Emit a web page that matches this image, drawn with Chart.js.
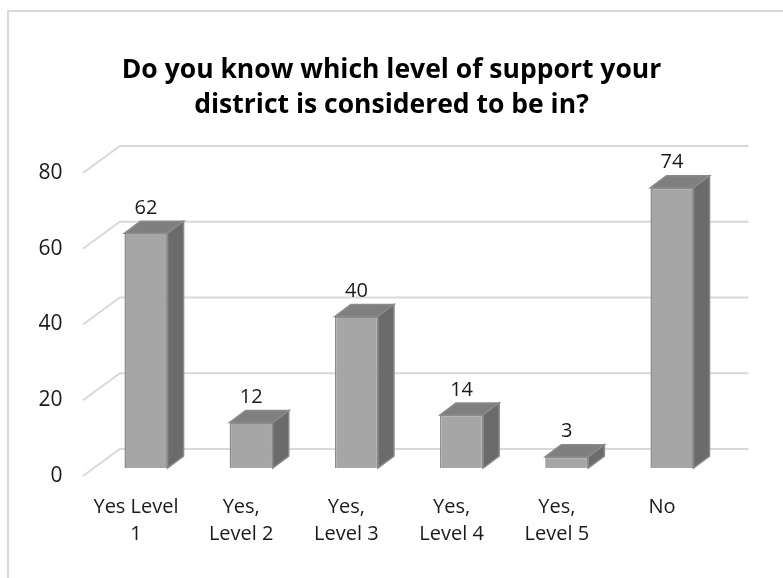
<!DOCTYPE html>
<html>
<head>
<meta charset="utf-8">
<script src="https://cdn.jsdelivr.net/npm/chart.js@4.4.0/dist/chart.umd.min.js"></script>
<style>
  body { margin: 0; background: #fff; }
  canvas { display: block; }
</style>
</head>
<body>
<canvas id="myChart" width="783" height="578"></canvas>
<script>
// data
const categories = [['Yes Level', '1'], ['Yes,', 'Level 2'], ['Yes,', 'Level 3'], ['Yes,', 'Level 4'], ['Yes,', 'Level 5'], ['No']];
const answers = [62, 12, 40, 14, 3, 74];
const yTicks = [0, 20, 40, 60, 80];
const titleLines = ['Do you know which level of support your', 'district is considered to be in?'];

// 3d look: depth of the bars and of the floor/walls
const barDx = 16, barDy = 12;
const wallDx = 37, wallDy = 27;
const frontGap = 8; // floor front edge sits this far below bar front face

const frame = {
  id: 'frame',
  beforeDraw(chart) {
    const c = chart.ctx;
    c.save();
    c.strokeStyle = '#d9d9d9';
    c.lineWidth = 2;
    c.strokeRect(8, 11, 900, 700);
    c.restore();
  }
};

const walls = {
  id: 'walls',
  beforeDatasetsDraw(chart) {
    const c = chart.ctx;
    const y = chart.scales.y;
    const x0 = chart.chartArea.left - 10.5;
    const xEnd = chart.chartArea.right + 24;
    c.save();
    c.strokeStyle = '#d9d9d9';
    c.lineWidth = 2;
    yTicks.forEach(v => {
      const yf = y.getPixelForValue(v) + frontGap;
      c.beginPath();
      c.moveTo(x0, yf);
      c.lineTo(x0 + wallDx, yf - wallDy);
      c.lineTo(xEnd, yf - wallDy);
      c.stroke();
    });
    c.restore();
  }
};

const bars3d = {
  id: 'bars3d',
  afterDatasetsDraw(chart) {
    const c = chart.ctx;
    const meta = chart.getDatasetMeta(0);
    c.save();
    meta.data.forEach((el, i) => {
      const l = el.x - el.width / 2, r = el.x + el.width / 2;
      const top = el.y, base = el.base;
      c.lineWidth = 1.5;
      c.strokeStyle = '#8a8a8a';
      // top face
      c.fillStyle = '#7f7f7f';
      c.beginPath();
      c.moveTo(l, top); c.lineTo(r, top); c.lineTo(r + barDx, top - barDy); c.lineTo(l + barDx, top - barDy);
      c.closePath(); c.fill(); c.stroke();
      // side face
      c.fillStyle = '#6b6b6b';
      c.beginPath();
      c.moveTo(r, top); c.lineTo(r + barDx, top - barDy); c.lineTo(r + barDx, base - barDy); c.lineTo(r, base);
      c.closePath(); c.fill(); c.stroke();
      // value label
      c.fillStyle = '#1a1a1a';
      c.font = '20px "Open Sans"';
      c.textAlign = 'center';
      c.textBaseline = 'middle';
      c.fillText(answers[i], el.x, top - 25);
    });
    c.restore();
  }
};

new Chart(document.getElementById('myChart'), {
  type: 'bar',
  data: {
    labels: categories,
    datasets: [{
      data: answers,
      backgroundColor: '#a6a6a6',
      borderColor: '#8a8a8a',
      borderWidth: 1.5,
      categoryPercentage: 1,
      barPercentage: 0.41
    }]
  },
  options: {
    responsive: false,
    animation: false,
    layout: { padding: { left: 29, right: 29, top: 0, bottom: 4 } },
    plugins: {
      legend: { display: false },
      tooltip: { enabled: false },
      title: {
        display: true,
        text: titleLines,
        color: '#000',
        font: { family: 'Open Sans', size: 26.5, weight: 'bold', lineHeight: 1.32 },
        padding: { top: 53, bottom: 42 }
      }
    },
    scales: {
      x: {
        grid: { display: false, drawTicks: false },
        border: { display: false },
        ticks: {
          color: '#1a1a1a',
          font: { family: 'Open Sans', size: 20, lineHeight: 1.35 },
          padding: 26,
          labelOffset: -10,
          maxRotation: 0,
          autoSkip: false
        }
      },
      y: {
        min: 0,
        max: 80,
        grid: { display: false, drawTicks: false },
        border: { display: false },
        afterFit: s => { s.width = 64.4; },
        ticks: {
          stepSize: 20,
          color: '#1a1a1a',
          font: { family: 'Open Sans', size: 21 },
          padding: 31,
          labelOffset: 8
        }
      },
      // empty axis on the right, only to keep the plot where the original has it
      yRight: {
        position: 'right',
        grid: { display: false, drawTicks: false },
        border: { display: false },
        ticks: { display: false },
        afterFit: s => { s.width = 29.4; }
      }
    }
  },
  plugins: [frame, walls, bars3d]
});
</script>
</body>
</html>
